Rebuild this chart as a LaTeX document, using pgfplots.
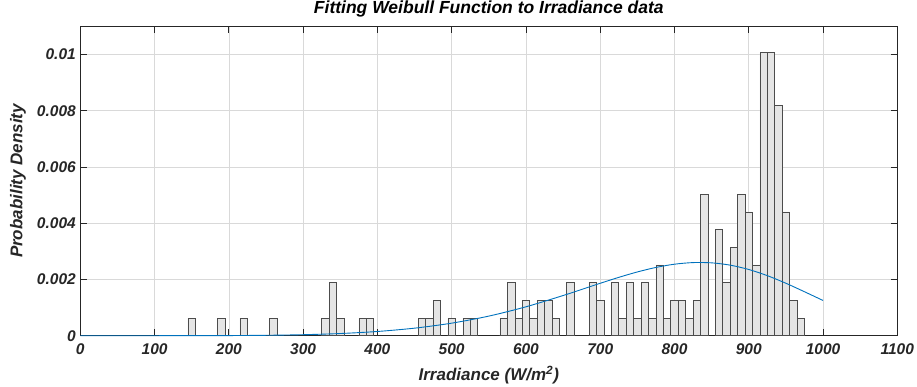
\documentclass[border=0pt]{standalone}
\usepackage{pgfplots}
\pgfplotsset{compat=1.18}
\usepackage{fontspec}
\setmainfont{Liberation Sans}
\definecolor{mblue}{rgb}{0,0.447,0.741}
\definecolor{barfill}{rgb}{0.9,0.9,0.9}
\definecolor{baredge}{rgb}{0.3,0.3,0.3}
\definecolor{gridc}{rgb}{0.85,0.85,0.85}
\definecolor{axc}{rgb}{0.15,0.15,0.15}
\begin{document}
\begin{tikzpicture}
\begin{axis}[
  name=ax,
  scale only axis,
  width=817pt, height=309.4pt,
  xmin=0, xmax=1100, ymin=0, ymax=0.011,
  xtick={0,100,...,1100},
  ytick={0,0.002,0.004,0.006,0.008,0.01},
  scaled y ticks=false,
  scaled x ticks=false,
  yticklabels={0,0.002,0.004,0.006,0.008,0.01},
  xticklabels={0,100,200,300,400,500,600,700,800,900,1000,1100},
  /pgf/number format/assume math mode=true,
  tick align=inside,
  major tick length=6.5pt,
  tick style={axc, line width=0.8pt},
  axis line style={axc, line width=0.9pt},
  grid=major,
  major grid style={gridc, line width=0.6pt},
  ticklabel style={font=\fontsize{15.5}{18}\selectfont\bfseries\itshape, text=axc},
  xticklabel style={yshift=-4.5pt},
  yticklabel style={xshift=-1pt},
  title={Fitting Weibull Function to Irradiance data},
  title style={at={(axis description cs:0.5,1)}, anchor=base, yshift=7pt, font=\fontsize{17.5}{20}\selectfont\bfseries\itshape},
  xlabel={Irradiance (W/m\textsuperscript{2})},
  xlabel style={at={(axis description cs:0.5,0)}, anchor=base, yshift=-45pt, font=\fontsize{17}{20}\selectfont\bfseries\itshape, text=axc},
  ylabel={Probability Density},
  ylabel style={at={(axis description cs:-0.0763,0.5)}, anchor=center, rotate=0, font=\fontsize{17}{20}\selectfont\bfseries\itshape, text=axc},
  clip=false,
]
\addplot[ybar, bar width=10, fill=barfill, draw=baredge, line width=0.6pt] coordinates {
(150,0.000629) (190,0.000629) (220,0.000629) (260,0.000629)
(330,0.000629) (340,0.001887) (350,0.000629) (380,0.000629) (390,0.000629)
(460,0.000629) (470,0.000629) (480,0.001258) (500,0.000629) (520,0.000629) (530,0.000629)
(570,0.000629) (580,0.001887) (590,0.000629) (600,0.001258) (610,0.000629)
(620,0.001258) (630,0.001258) (640,0.000629) (660,0.001887)
(690,0.001887) (700,0.001258) (720,0.001887) (730,0.000629) (740,0.001887)
(750,0.000629) (760,0.001887) (770,0.000629) (780,0.002516) (790,0.000629)
(800,0.001258) (810,0.001258) (820,0.000629) (830,0.001258) (840,0.005031)
(860,0.003774) (870,0.001887) (880,0.003145) (890,0.005031) (900,0.004403)
(910,0.002516) (920,0.010063) (930,0.010063) (940,0.008176) (950,0.004403)
(960,0.001258) (970,0.000629)
};
\addplot[mblue, line width=0.9pt, smooth] coordinates {
(0,0) (50,0) (100,0.0000001) (150,0.0000011) (200,0.0000047) (250,0.0000145)
(300,0.000036) (350,0.0000775) (400,0.0001503) (450,0.0002681) (500,0.0004459)
(550,0.000697) (600,0.0010276) (650,0.0014281) (675,0.0016449) (700,0.0018636)
(725,0.0020746) (750,0.0022667) (775,0.0024269) (800,0.0025422) (825,0.0025998)
(850,0.0025906) (875,0.0025085) (900,0.0023544) (925,0.0021353) (950,0.0018648)
(975,0.0015632) (1000,0.0012522)
};
\end{axis}
\pgfresetboundingbox
\path ([xshift=-80.3pt,yshift=-50.3pt]ax.south west) rectangle ([xshift=19.7pt,yshift=26.3pt]ax.north east);
\end{tikzpicture}
\end{document}
